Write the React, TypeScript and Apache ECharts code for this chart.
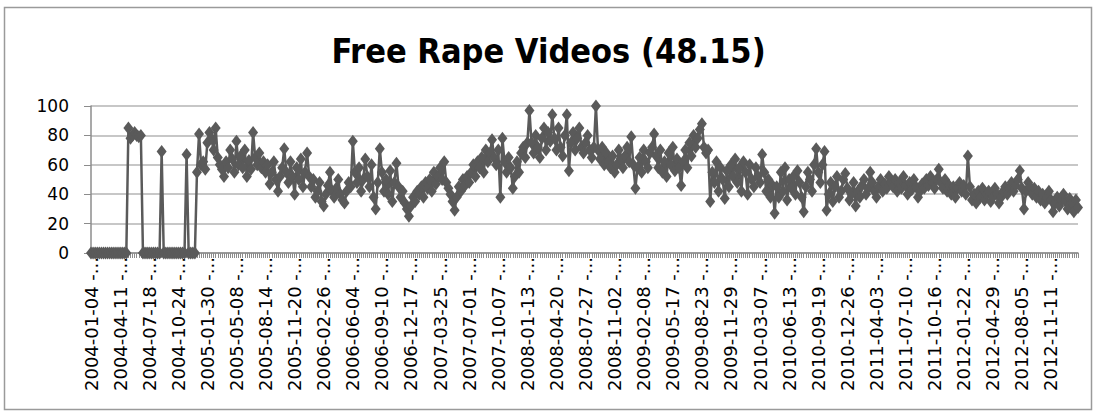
import React, { useEffect, useRef } from "react";
import * as echarts from "echarts";

const TITLE = "Free Rape Videos (48.15)";
const WEEK_COUNT = 476;
const Y_MIN = 0;
const Y_MAX = 100;
const Y_STEP = 20;
const LABEL_EVERY = 14;

// weekly values
const weeks000to052 = [
  0, 0, 0, 0, 0, 0, 0, 0, 0, 0, 0, 0, 0, 0, 0, 0, 0, 0,
  85, 78, 80, 82, 80, 79, 80,
  0, 0, 0, 0, 0, 0, 0, 0, 0,
  69,
  0, 0, 0, 0, 0, 0, 0, 0, 0, 0, 0,
  67,
  0, 0, 0, 0,
  55, 81,
];
const weeks053to131 = [
  60, 62, 57, 75, 82, 78, 70, 85, 65, 60, 57, 52,
  62, 58, 70, 64, 55, 76, 60, 66, 58, 70, 52, 63, 57,
  82,
  65, 60, 68, 58, 62, 55, 60, 47, 55, 62, 50,
  42, 52, 58, 71,
  55, 48, 62, 52, 40, 58, 50, 64, 45, 55,
  68,
  52, 45, 50, 38, 42, 48, 35, 32, 40, 46, 55, 42, 38, 44, 50, 40, 36, 34, 42, 48, 45,
  76,
  55, 48, 58, 42, 50,
];
const weeks132to231 = [
  64, 52, 45, 60, 38, 30, 48, 71, 55, 42,
  50, 40, 56, 35, 48, 61, 45, 38, 42, 34, 30, 25,
  32, 38, 35, 42, 40, 45, 38, 48, 44, 50, 42, 55, 47, 52, 58, 50, 62,
  48, 44, 40, 35, 29, 38, 45, 42, 50, 46, 52,
  48, 55, 60, 52, 62, 58, 65, 55, 70, 62, 68,
  77, 65, 60, 70, 38, 78, 62, 55, 65, 58, 44, 52,
  62, 55, 68, 72, 65, 75,
  97,
  75, 68, 80, 72, 65, 78, 85, 70, 82, 76,
  94,
  78, 70, 85, 72, 66, 80,
  94, 56, 75,
];
const weeks232to328 = [
  82, 70, 78, 85, 72, 68, 75, 80, 70, 65,
  72, 100,
  70, 64, 72, 60, 68, 62, 58, 66, 55, 60, 70, 64, 58, 66, 72, 62,
  79, 60, 44, 58,
  65, 55, 70, 62, 58, 68, 72,
  81,
  66, 58, 70, 55, 62, 52, 68, 60, 72, 56, 64, 58,
  46,
  62, 70, 58, 75, 66, 80, 72, 78, 84,
  88,
  72, 68, 70,
  35,
  55, 48, 62, 42, 58, 50, 37, 56, 45, 60, 52, 64,
  48, 58, 42, 62, 55, 40, 60, 50, 45, 58, 52, 48, 67, 55, 42, 50, 38, 46,
];
const weeks329to407 = [
  27,
  45, 38, 55, 42, 58, 36, 50, 44, 52, 40, 56, 48, 38,
  28,
  45, 55, 50, 42, 60,
  71, 55, 48, 60, 69, 29,
  40, 48, 35, 45, 52, 38, 42, 50, 54, 44, 36, 40, 48, 32, 42, 38, 46, 50, 40, 44, 55, 48, 42, 38, 45, 50, 42, 47, 44, 52, 48,
  45, 50, 42, 48, 44, 52, 46, 40, 48, 43, 50, 45, 38, 42, 47, 44, 50, 46, 52, 48, 44, 50,
];
const weeks408to475 = [
  57,
  48, 44, 50, 42, 46, 40, 45, 38, 44, 48, 42, 46, 40,
  66,
  45, 36, 40, 34, 42, 38, 44, 36, 40, 42, 35, 38, 44, 40, 34, 38, 42, 45, 40, 44, 48, 42, 46, 50,
  56,
  44, 30, 42, 48, 45, 40, 44, 38, 42, 36, 40, 34, 38, 42, 36, 28, 34, 38, 32, 36, 40, 35, 30, 37, 34, 28, 36, 31,
];

const values = [
  ...weeks000to052,
  ...weeks053to131,
  ...weeks132to231,
  ...weeks232to328,
  ...weeks329to407,
  ...weeks408to475,
];

function fmt(d: Date): string {
  const m = String(d.getUTCMonth() + 1).padStart(2, "0");
  const day = String(d.getUTCDate()).padStart(2, "0");
  return `${d.getUTCFullYear()}-${m}-${day}`;
}

function buildCategories(): string[] {
  const out: string[] = [];
  const base = Date.UTC(2004, 0, 4);
  const dayMs = 86400000;
  for (let i = 0; i < WEEK_COUNT; i++) {
    const s = new Date(base + i * 7 * dayMs);
    const e = new Date(base + (i * 7 + 6) * dayMs);
    out.push(`${fmt(s)} - ${fmt(e)}`);
  }
  return out;
}

const categories = buildCategories();

export default function App() {
  const ref = useRef<HTMLDivElement>(null);
  useEffect(() => {
    if (!ref.current) return;
    const chart = echarts.init(ref.current, null, { renderer: "svg" });
    chart.setOption({
      animation: false,
      backgroundColor: "#ffffff",
      title: {
        text: TITLE,
        left: "center",
        top: 29,
        textStyle: {
          fontFamily: "DejaVu Sans Condensed",
          fontWeight: "bold",
          fontSize: 34,
          color: "#000000",
        },
      },
      graphic: [
        {
          type: "rect",
          shape: { x: 4.5, y: 7.5, width: 1087, height: 402 },
          style: { fill: "none", stroke: "#9a9a9a", lineWidth: 1.5 },
          silent: true,
        },
      ],
      grid: { left: 91, right: 19, top: 106, bottom: 164 },
      xAxis: {
        type: "category",
        data: categories,
        boundaryGap: false,
        axisLine: { show: true, lineStyle: { color: "#8c8c8c", width: 1.5 } },
        axisTick: { show: true, interval: 0, length: 5, lineStyle: { color: "#8c8c8c", width: 1 } },
        axisLabel: {
          interval: LABEL_EVERY - 1,
          rotate: 90,
          margin: 4,
          fontFamily: "DejaVu Sans",
          fontSize: 18,
          color: "#000000",
          formatter: (v: string) => `${v.slice(0, 10)} -...`,
        },
        splitLine: { show: false },
      },
      yAxis: {
        type: "value",
        min: Y_MIN,
        max: Y_MAX,
        interval: Y_STEP,
        axisLine: { show: true, lineStyle: { color: "#8c8c8c", width: 1.5 } },
        axisTick: { show: true, length: 7, lineStyle: { color: "#8c8c8c" } },
        axisLabel: {
          margin: 22,
          fontFamily: "DejaVu Sans",
          fontSize: 17,
          color: "#000000",
        },
        splitLine: { show: true, lineStyle: { color: "#b4b4b4", width: 1.5 } },
      },
      series: [
        {
          type: "line",
          data: values,
          symbol: "diamond",
          symbolSize: [10, 13],
          showSymbol: true,
          showAllSymbol: true,
          lineStyle: { color: "#5a5a5a", width: 2.5 },
          itemStyle: { color: "#5a5a5a" },
        },
      ],
    });
    return () => chart.dispose();
  }, []);
  return (
    <div
      ref={ref}
      style={{ position: "absolute", left: 0, top: 0, width: 1097, height: 417 }}
    />
  );
}
